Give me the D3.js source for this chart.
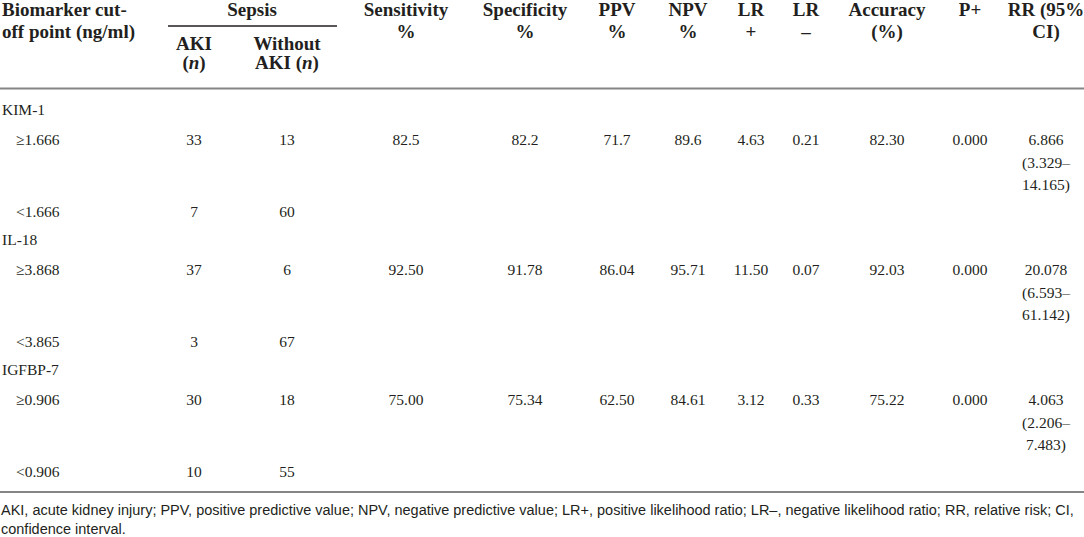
<!DOCTYPE html>
<html>
<head>
<meta charset="utf-8">
<script src="https://cdn.jsdelivr.net/npm/d3@7"></script>
<style>
  body { margin: 0; background: #fff; }
  svg { display: block; }
</style>
</head>
<body>
<div id="chart"></div>
<script>
// Table data
const biomarkers = ["KIM-1", "IL-18", "IGFBP-7"];
const cutHigh = ["≥1.666", "≥3.868", "≥0.906"];
const cutLow = ["<1.666", "<3.865", "<0.906"];
const akiHigh = [33, 37, 30];
const withoutHigh = [13, 6, 18];
const akiLow = [7, 3, 10];
const withoutLow = [60, 67, 55];
const sensitivity = ["82.5", "92.50", "75.00"];
const specificity = ["82.2", "91.78", "75.34"];
const ppv = ["71.7", "86.04", "62.50"];
const npv = ["89.6", "95.71", "84.61"];
const lrPlus = ["4.63", "11.50", "3.12"];
const lrMinus = ["0.21", "0.07", "0.33"];
const accuracy = ["82.30", "92.03", "75.22"];
const pPlus = ["0.000", "0.000", "0.000"];
const rr = ["6.866", "20.078", "4.063"];
const rrLow = ["3.329", "6.593", "2.206"];
const rrHigh = ["14.165", "61.142", "7.483"];

const statCols = ["sens", "spec", "ppv", "npv", "lrp", "lrm", "acc", "pp", "rr"];
const statHead1 = ["Sensitivity", "Specificity", "PPV", "NPV", "LR", "LR", "Accuracy", "P+", "RR (95%"];
const statHead2 = ["%", "%", "%", "%", "+", "–", "(%)", "", "CI)"];
const statValues = [sensitivity, specificity, ppv, npv, lrPlus, lrMinus, accuracy, pPlus];

const footnote = [
    "AKI, acute kidney injury; PPV, positive predictive value; NPV, negative predictive value; LR+, positive likelihood ratio; LR–, negative likelihood ratio; RR, relative risk; CI,",
    "confidence interval."
];

const width = 1084;
const height = 537;
const ink = "#231f20";
const serif = "'Liberation Serif', 'Times New Roman', serif";

const svg = d3.select("#chart")
    .append("svg")
    .attr("width", width)
    .attr("height", height)
    .style("background", "#fff");

// column centres
const x = d3.scaleOrdinal()
    .domain(["aki", "without"].concat(statCols))
    .range([194, 287, 406, 525, 617, 688, 751, 806, 887, 970, 1046]);

// group baseline (biomarker name row)
const groupY = d3.scaleLinear().domain([0, 1]).range([115, 245]);
const highOffset = 30;
const lowOffset = 102;
const rrLine = 22.5;

// --- header
const head = svg.append("g")
    .attr("font-family", serif)
    .attr("font-weight", "bold")
    .attr("font-size", 19)
    .attr("fill", ink);

head.append("text").attr("x", 2).attr("y", 16).text("Biomarker cut-");
head.append("text").attr("x", 2).attr("y", 38).text("off point (ng/ml)");

head.append("text").attr("x", 252).attr("y", 16)
    .attr("text-anchor", "middle").text("Sepsis");

svg.append("line")
    .attr("x1", 168).attr("x2", 337)
    .attr("y1", 26).attr("y2", 26)
    .attr("stroke", ink).attr("stroke-width", 1.5);

const sub = [
    { key: "aki", l1: "AKI", l2a: "(", l2b: "n", l2c: ")" },
    { key: "without", l1: "Without", l2a: "AKI (", l2b: "n", l2c: ")" }
];
sub.forEach(d => {
    head.append("text").attr("x", x(d.key)).attr("y", 50)
        .attr("text-anchor", "middle").text(d.l1);
    const t = head.append("text").attr("x", x(d.key)).attr("y", 69)
        .attr("text-anchor", "middle");
    t.append("tspan").text(d.l2a);
    t.append("tspan").attr("font-style", "italic").text(d.l2b);
    t.append("tspan").text(d.l2c);
});

head.selectAll(".h1")
    .data(statCols)
    .join("text")
    .attr("class", "h1")
    .attr("x", d => x(d))
    .attr("y", 16)
    .attr("text-anchor", "middle")
    .text((d, i) => statHead1[i]);

head.selectAll(".h2")
    .data(statCols)
    .join("text")
    .attr("class", "h2")
    .attr("x", d => x(d))
    .attr("y", 38)
    .attr("text-anchor", "middle")
    .text((d, i) => statHead2[i]);

// rules
[88.5, 492].forEach(yy => {
    svg.append("line")
        .attr("x1", 0).attr("x2", width)
        .attr("y1", yy).attr("y2", yy)
        .attr("stroke", "#858585").attr("stroke-width", 2);
});

// --- body
const body = svg.append("g")
    .attr("font-family", serif)
    .attr("font-size", 15.5)
    .attr("fill", ink);

const groups = body.selectAll("g")
    .data(biomarkers)
    .join("g")
    .attr("transform", (d, i) => `translate(0,${groupY(i)})`);

groups.append("text").attr("x", 2).attr("y", 0).text(d => d);
groups.append("text").attr("x", 16).attr("y", highOffset).text((d, i) => cutHigh[i]);
groups.append("text").attr("x", 16).attr("y", lowOffset).text((d, i) => cutLow[i]);

const mid = (key, yy, fn) => groups.append("text")
    .attr("x", x(key)).attr("y", yy)
    .attr("text-anchor", "middle")
    .text(fn);

mid("aki", highOffset, (d, i) => akiHigh[i]);
mid("without", highOffset, (d, i) => withoutHigh[i]);
mid("aki", lowOffset, (d, i) => akiLow[i]);
mid("without", lowOffset, (d, i) => withoutLow[i]);

statValues.forEach((vals, c) => {
    mid(statCols[c], highOffset, (d, i) => vals[i]);
});

mid("rr", highOffset, (d, i) => rr[i]);
mid("rr", highOffset + rrLine, (d, i) => "(" + rrLow[i] + "–");
mid("rr", highOffset + 2 * rrLine, (d, i) => rrHigh[i] + ")");

// --- footnote (narrow sans, squeezed to fit line width)
const foot = svg.append("g")
    .attr("font-family", "'Liberation Sans', Arial, sans-serif")
    .attr("font-size", 15.5)
    .attr("fill", ink);

const fLines = foot.selectAll("text")
    .data(footnote)
    .join("text")
    .attr("y", (d, i) => 515 + i * 19)
    .text(d => d);

const natural = fLines.node().getComputedTextLength();
const sx = 1073 / natural;
fLines.attr("transform", `scale(${sx},1)`).attr("x", 1 / sx);
</script>
</body>
</html>
